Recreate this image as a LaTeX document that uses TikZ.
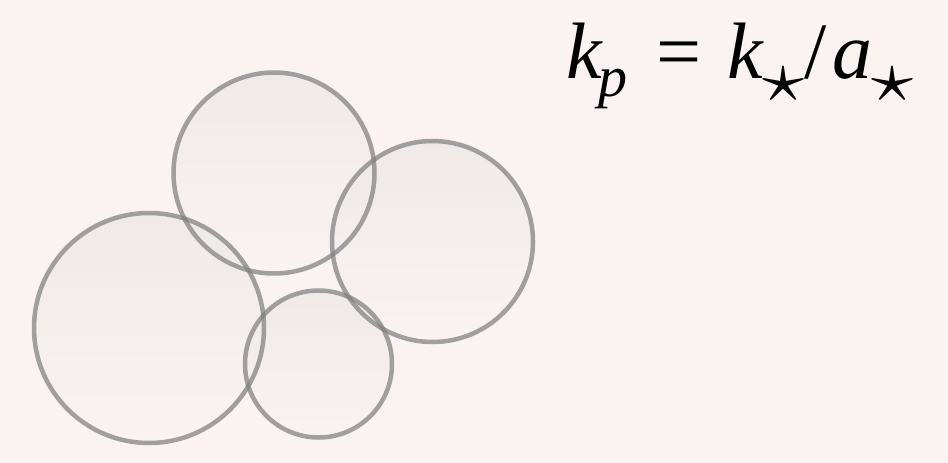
\documentclass[tikz,border=0pt]{standalone}
\usepackage{fontspec}
\usepackage{graphicx}
\newfontfamily\tms{Liberation Serif}
\definecolor{bgc}{RGB}{250,243,242}
\definecolor{topc}{RGB}{236,231,230}
\definecolor{ringc}{RGB}{128,128,128}
\newcommand{\bigstr}{\resizebox*{42pt}{34pt}{$\star$}}
\begin{document}
\begin{tikzpicture}[x=1pt,y=-1pt,
  bubble/.style={circle, inner sep=0pt, outer sep=0pt, top color=topc, bottom color=bgc, fill opacity=0.75},
  ring/.style={line width=4.5pt, draw=ringc, draw opacity=0.72},
  glyph/.style={anchor=base west, inner sep=0pt, font=\fontsize{80}{84}\selectfont\tms\itshape},
  subglyph/.style={anchor=base west, inner sep=0pt, font=\fontsize{58}{60}\selectfont\tms\itshape},
  stsym/.style={anchor=center, inner sep=0pt}]
\fill[bgc] (0,0) rectangle (948,463);
\useasboundingbox (0,0) rectangle (948,463);
\node[bubble, minimum size=201pt] (top) at (274,173) {};
\node[bubble, minimum size=201pt] (right) at (432.5,241.5) {};
\node[bubble, minimum size=230pt] (left) at (149,328) {};
\node[bubble, minimum size=147pt] (small) at (318.5,364) {};
\draw[ring] (top.center) circle[radius=100.5];
\draw[ring] (right.center) circle[radius=100.5];
\draw[ring] (left.center) circle[radius=115];
\draw[ring] (small.center) circle[radius=73.5];
\node[glyph] (k1) at (566,78) {k};
\node[subglyph] (p) at (598,96) {p};
\node[glyph, font=\fontsize{80}{84}\selectfont\tms] (eq) at (656,78) {=};
\node[glyph] (k2) at (727,78) {k};
\node[stsym] (s1) at (783,84) {\bigstr};
\node[glyph, font=\fontsize{80}{84}\selectfont\tms] (sl) at (804,78) {/};
\node[glyph] (a) at (832,78) {a};
\node[stsym] (s2) at (892,84) {\bigstr};
\end{tikzpicture}
\end{document}
